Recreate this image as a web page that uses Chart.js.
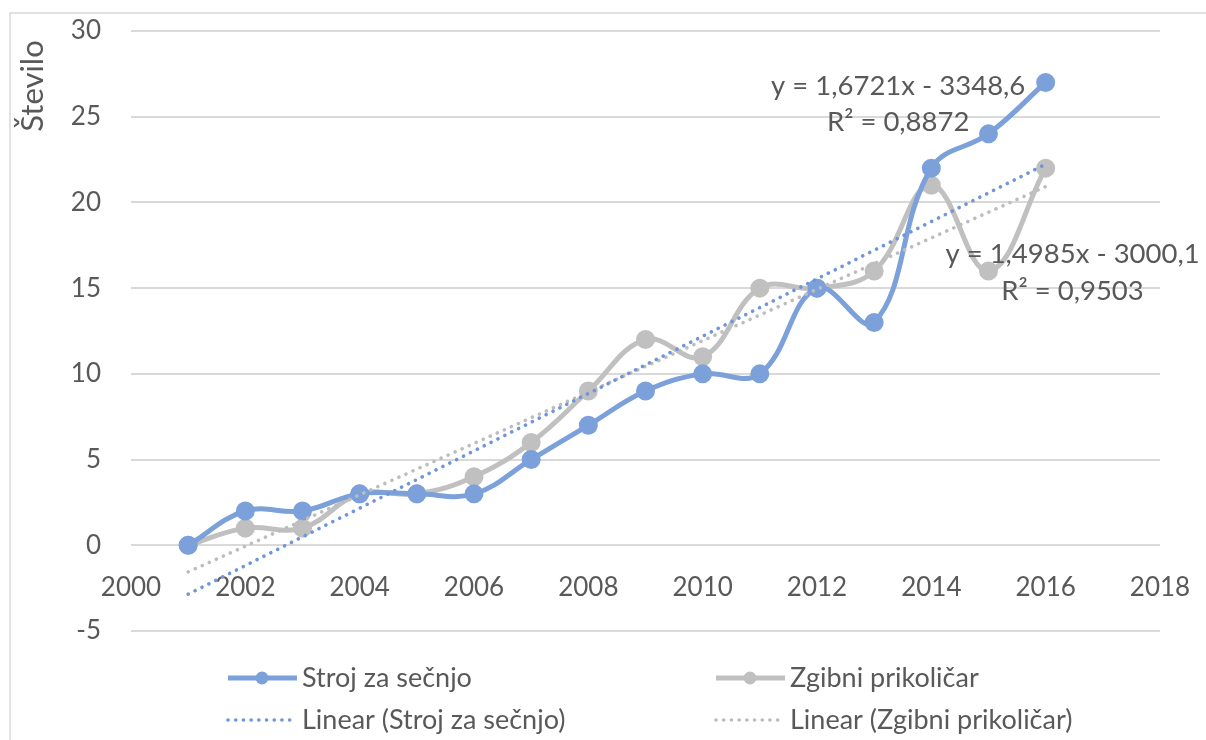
<!DOCTYPE html>
<html>
<head>
<meta charset="utf-8">
<script src="https://cdn.jsdelivr.net/npm/chart.js@4/dist/chart.umd.min.js"></script>
<style>
  html, body { margin: 0; padding: 0; background: #fff; }
  #wrap { width: 1206px; height: 740px; position: relative; }
</style>
</head>
<body>
<div id="wrap"><canvas id="chart"></canvas></div>
<script>
// Podatki
const years = [2001, 2002, 2003, 2004, 2005, 2006, 2007, 2008, 2009, 2010, 2011, 2012, 2013, 2014, 2015, 2016];
const stroj = [0, 2, 2, 3, 3, 3, 5, 7, 9, 10, 10, 15, 13, 22, 24, 27];
const zgibni = [0, 1, 1, 3, 3, 4, 6, 9, 12, 11, 15, 15, 16, 21, 16, 22];
const xTicks = [2000, 2002, 2004, 2006, 2008, 2010, 2012, 2014, 2016, 2018];
const yTicks = [-5, 0, 5, 10, 15, 20, 25, 30];
const seriesNames = ["Stroj za sečnjo", "Zgibni prikoličar"];
const trendLabels = [
  ["y = 1,6721x - 3348,6", "R² = 0,8872"],
  ["y = 1,4985x - 3000,1", "R² = 0,9503"]
];
// položaj oznak enačb (v enotah osi)
const trendLabelPos = [[2013.42, 26.8, 24.7], [2016.47, 17.0, 14.8]];

const BLUE = "#7BA0DA";
const GRAY = "#C0C0C0";
const FONT = "Lato, 'Open Sans', sans-serif";
const TXT = "#595959";

function pts(ys) {
  return years.map((x, i) => ({ x: x, y: ys[i] }));
}

// linearna regresija (kot Excelova trendna črta)
function trend(ys) {
  const n = years.length;
  const mx = years.reduce((a, b) => a + b, 0) / n;
  const my = ys.reduce((a, b) => a + b, 0) / n;
  let sxy = 0, sxx = 0;
  for (let i = 0; i < n; i++) {
    sxy += (years[i] - mx) * (ys[i] - my);
    sxx += (years[i] - mx) * (years[i] - mx);
  }
  const k = sxy / sxx, b = my - k * mx;
  const x0 = years[0], x1 = years[n - 1];
  return [{ x: x0, y: k * x0 + b }, { x: x1, y: k * x1 + b }];
}

const chromePlugin = {
  id: "chrome",
  beforeDraw(chart) {
    const c = chart.ctx;
    c.save();
    c.strokeStyle = "#D9D9D9";
    c.lineWidth = 1.5;
    c.beginPath();
    c.moveTo(10, 760);
    c.lineTo(10, 13);
    c.lineTo(1220, 13);
    c.stroke();
    c.restore();
  },
  afterDraw(chart) {
    const c = chart.ctx;
    const xs = chart.scales.x, ys = chart.scales.y;
    c.save();
    c.fillStyle = TXT;
    c.textAlign = "center";
    c.textBaseline = "middle";
    c.font = "27.5px " + FONT;
    trendLabels.forEach((lines, i) => {
      const p = trendLabelPos[i];
      c.fillText(lines[0], xs.getPixelForValue(p[0]), ys.getPixelForValue(p[1]));
      c.fillText(lines[1], xs.getPixelForValue(p[0]), ys.getPixelForValue(p[2]));
    });

    // naslov osi y
    c.save();
    c.font = "31px " + FONT;
    c.translate(33, 86);
    c.rotate(-Math.PI / 2);
    c.fillText("Število", 0, 0);
    c.restore();

    // legenda v dveh stolpcih
    const items = chart.data.datasets;
    const colX = [228, 716];
    const rowY = [678, 720];
    c.textAlign = "left";
    c.font = "27px " + FONT;
    items.forEach((ds, i) => {
      const x = colX[i % 2], y = rowY[Math.floor(i / 2)];
      c.save();
      c.strokeStyle = ds.borderColor;
      c.lineWidth = ds.borderWidth;
      c.lineCap = ds.borderDash ? "round" : "butt";
      c.setLineDash(ds.borderDash || []);
      c.beginPath();
      c.moveTo(x, y);
      c.lineTo(x + 69, y);
      c.stroke();
      if (ds.pointRadius > 0) {
        c.fillStyle = ds.borderColor;
        c.beginPath();
        c.arc(x + 34, y, 6.5, 0, Math.PI * 2);
        c.fill();
      }
      c.restore();
      c.fillStyle = TXT;
      c.fillText(ds.label, x + 74, y);
    });
    c.restore();
  }
};

const ctx = document.getElementById("chart").getContext("2d");
const chart = new Chart(ctx, {
  type: "line",
  data: {
    datasets: [
      {
        label: seriesNames[0],
        data: pts(stroj),
        borderColor: BLUE,
        backgroundColor: BLUE,
        borderWidth: 5,
        pointRadius: 7,
        pointHoverRadius: 7,
        tension: 0.4,
        order: 1
      },
      {
        label: seriesNames[1],
        data: pts(zgibni),
        borderColor: GRAY,
        backgroundColor: GRAY,
        borderWidth: 5,
        pointRadius: 7,
        pointHoverRadius: 7,
        tension: 0.4,
        order: 2
      },
      {
        label: "Linear (" + seriesNames[0] + ")",
        data: trend(stroj),
        borderColor: "#6F96D8",
        borderWidth: 3.6,
        borderDash: [0.1, 7.6],
        borderCapStyle: "round",
        pointRadius: 0,
        tension: 0,
        order: 0
      },
      {
        label: "Linear (" + seriesNames[1] + ")",
        data: trend(zgibni),
        borderColor: "#BDBDBD",
        borderWidth: 3.6,
        borderDash: [0.1, 7.6],
        borderCapStyle: "round",
        pointRadius: 0,
        tension: 0,
        order: 0
      }
    ]
  },
  options: {
    responsive: true,
    maintainAspectRatio: false,
    animation: false,
    layout: { padding: { left: 0, top: 31, right: 46, bottom: 109 } },
    plugins: {
      legend: { display: false },
      tooltip: { enabled: false }
    },
    scales: {
      x: {
        type: "linear",
        position: { y: 0 },
        min: 2000,
        max: 2018,
        afterBuildTicks: (s) => { s.ticks = xTicks.map(v => ({ value: v })); },
        afterFit: (s) => { s.paddingLeft = 0; s.paddingRight = 0; s.paddingTop = 0; s.paddingBottom = 0; },
        grid: { display: false, drawTicks: false },
        border: { display: false },
        ticks: {
          color: TXT,
          font: { family: FONT, size: 26 },
          padding: 27,
          maxRotation: 0,
          callback: (v) => String(v)
        }
      },
      y: {
        min: -5,
        max: 30,
        afterBuildTicks: (s) => { s.ticks = yTicks.map(v => ({ value: v })); },
        afterFit: (s) => { s.width = 131; s.paddingTop = 0; s.paddingBottom = 0; },
        grid: { color: "#D9D9D9", lineWidth: 2, drawTicks: false },
        border: { display: false },
        ticks: {
          color: TXT,
          font: { family: FONT, size: 26 },
          padding: 30
        }
      }
    }
  },
  plugins: [chromePlugin]
});
</script>
</body>
</html>
